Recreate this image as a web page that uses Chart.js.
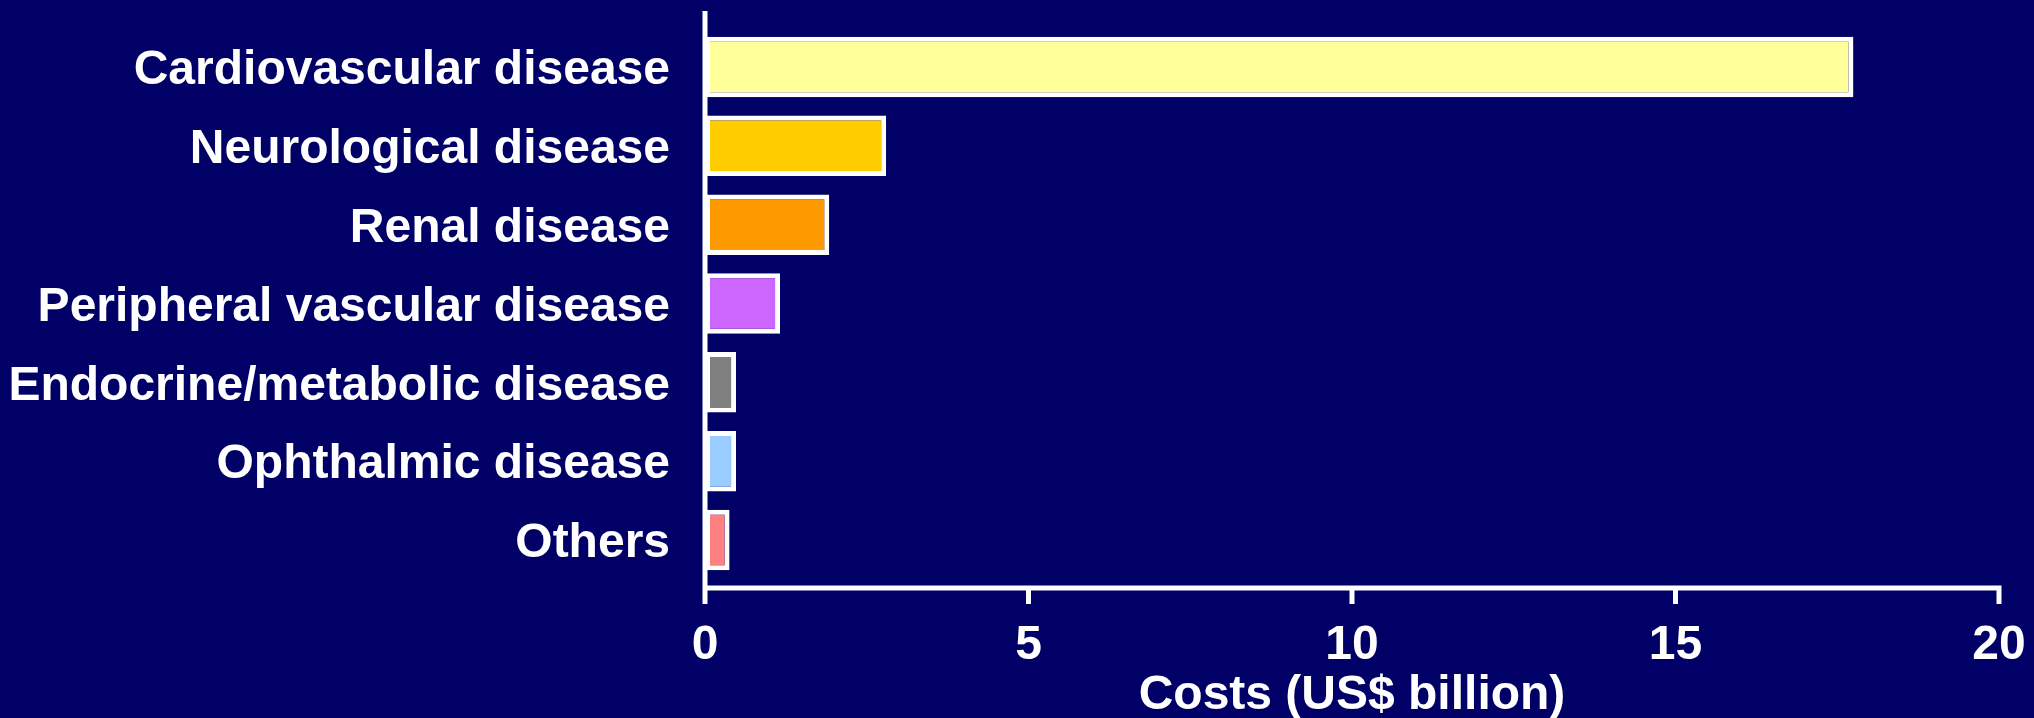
<!DOCTYPE html>
<html>
<head>
<meta charset="utf-8">
<title>Costs by complication</title>
<script src="https://cdn.jsdelivr.net/npm/chart.js@4.4.1/dist/chart.umd.min.js"></script>
<style>
    html, body {
        margin: 0;
        padding: 0;
        background: #000066;
        overflow: hidden;
    }
    canvas {
        display: block;
    }
</style>
</head>
<body>
<canvas id="costChart" width="2034" height="718"></canvas>
<script>
// Chart data
const categories = [
    'Cardiovascular disease',
    'Neurological disease',
    'Renal disease',
    'Peripheral vascular disease',
    'Endocrine/metabolic disease',
    'Ophthalmic disease',
    'Others'
];
const costs = [17.75, 2.8, 1.92, 1.16, 0.48, 0.48, 0.38];
const barColors = ['#FFFF99', '#FFCC00', '#FF9900', '#CC66FF', '#808080', '#99CCFF', '#FF8080'];
const xTicks = [0, 5, 10, 15, 20];
const xTitle = 'Costs (US$ billion)';

const BG = '#000066';
const FONT = { family: '"Liberation Sans", Arial, Helvetica, sans-serif', size: 48, weight: 'bold' };

// Axis geometry
const AXIS_LEFT = 705;
const AXIS_TOP = 11;
const X_LINE_Y = 588;
const TICK_LEN = 16;
const PLOT_TOP = 27.6;
const PLOT_BOTTOM = 579.4;

// Paints the page background behind the chart
const backgroundPlugin = {
    id: 'background',
    beforeDraw(chart) {
        const ctx = chart.ctx;
        ctx.save();
        ctx.fillStyle = BG;
        ctx.fillRect(0, 0, chart.width, chart.height);
        ctx.restore();
    }
};

// Draws the L-shaped axis lines with tick marks below the x axis
const axisLinesPlugin = {
    id: 'axisLines',
    afterDatasetsDraw(chart) {
        const ctx = chart.ctx;
        const x = chart.scales.x;
        const x0 = x.getPixelForValue(0);
        const x1 = x.getPixelForValue(20);
        ctx.save();
        ctx.strokeStyle = '#FFFFFF';
        ctx.lineWidth = 5;
        ctx.lineCap = 'butt';
        ctx.beginPath();
        ctx.moveTo(x0, AXIS_TOP);
        ctx.lineTo(x0, X_LINE_Y + 2.5);
        ctx.moveTo(x0 - 2.5, X_LINE_Y);
        ctx.lineTo(x1 + 2.5, X_LINE_Y);
        xTicks.forEach(v => {
            const px = x.getPixelForValue(v);
            ctx.moveTo(px, X_LINE_Y);
            ctx.lineTo(px, X_LINE_Y + TICK_LEN);
        });
        ctx.stroke();
        ctx.restore();
    }
};

function createChart() {
    const ctx = document.getElementById('costChart').getContext('2d');
    new Chart(ctx, {
        type: 'bar',
        data: {
            labels: categories,
            datasets: [{
                data: costs,
                backgroundColor: barColors,
                borderColor: '#FFFFFF',
                borderWidth: 5,
                borderSkipped: false,
                barPercentage: 0.768,
                categoryPercentage: 1
            }]
        },
        plugins: [backgroundPlugin, axisLinesPlugin],
        options: {
            indexAxis: 'y',
            responsive: false,
            animation: false,
            devicePixelRatio: 1,
            layout: {
                padding: { top: PLOT_TOP, right: 35, bottom: 0, left: 0 }
            },
            plugins: {
                legend: { display: false },
                tooltip: { enabled: false }
            },
            scales: {
                x: {
                    type: 'linear',
                    min: 0,
                    max: 20,
                    afterBuildTicks: scale => {
                        scale.ticks = xTicks.map(v => ({ value: v }));
                    },
                    afterFit: scale => {
                        scale.height = 718 - PLOT_BOTTOM;
                        scale.paddingLeft = 0;
                        scale.paddingRight = 0;
                    },
                    grid: { display: false, drawTicks: false },
                    border: { display: false },
                    ticks: {
                        color: '#FFFFFF',
                        font: FONT,
                        padding: 38,
                        maxRotation: 0
                    },
                    title: {
                        display: true,
                        text: xTitle,
                        color: '#FFFFFF',
                        font: FONT,
                        // title sits partly below the canvas edge
                        padding: { top: 0, bottom: -7 }
                    }
                },
                y: {
                    afterFit: scale => {
                        // keep the plot edges fixed, no extra room for label halves
                        scale.width = AXIS_LEFT;
                        scale.paddingTop = 0;
                        scale.paddingBottom = 0;
                    },
                    grid: { display: false, drawTicks: false },
                    border: { display: false },
                    ticks: {
                        color: '#FFFFFF',
                        font: FONT,
                        padding: 35,
                        labelOffset: 4,
                        autoSkip: false
                    }
                }
            }
        }
    });
}

document.addEventListener('DOMContentLoaded', createChart);
</script>
</body>
</html>
